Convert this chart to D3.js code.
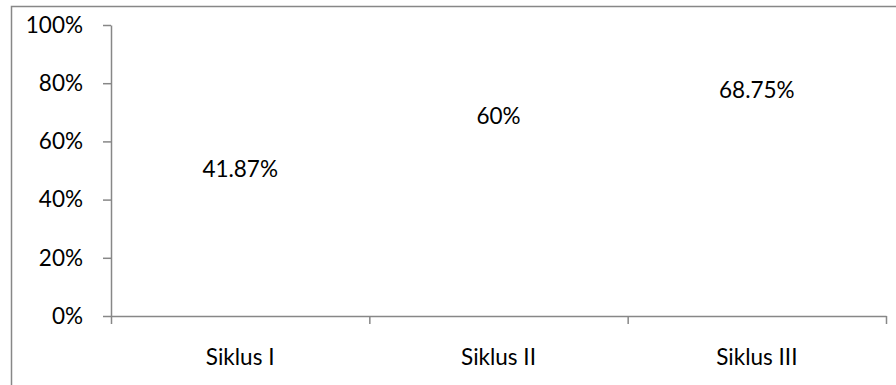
<!DOCTYPE html>
<html>
<head>
<meta charset="utf-8">
<script src="https://cdn.jsdelivr.net/npm/d3@7"></script>
<style>
  html, body { margin: 0; padding: 0; background: #fff; }
  svg { display: block; }
  text { font-family: Lato, "Open Sans", sans-serif; fill: #000; }
</style>
</head>
<body>
<svg id="chart" width="896" height="385"></svg>
<script>
// Persentase ketuntasan per siklus
const categories = ["Siklus I", "Siklus II", "Siklus III"];
const values = [41.87, 60, 68.75];
const valueLabels = ["41.87%", "60%", "68.75%"];
const yTicks = [0, 20, 40, 60, 80, 100];

const W = 896, H = 385;
const margin = { left: 111, right: 10, top: 25, bottom: 69 };
const axisColor = "#878787";
const fontSize = 22.5;

const svg = d3.select("#chart");

// Chart frame
svg.append("path")
  .attr("d", `M11.5,${H + 5} V6.5 H${W + 5}`)
  .attr("fill", "none")
  .attr("stroke", axisColor)
  .attr("stroke-width", 1.5);

const x = d3.scaleBand()
  .domain(categories)
  .range([margin.left, W - margin.right])
  .paddingInner(0.6)
  .paddingOuter(0.3);

const xEdges = d3.scaleLinear()
  .domain([0, categories.length])
  .range([margin.left, W - margin.right]);

const y = d3.scaleLinear()
  .domain([0, 100])
  .range([H - margin.bottom, margin.top]);

// Bars (white fill)
svg.append("g").selectAll("rect")
  .data(values)
  .join("rect")
  .attr("x", (d, i) => x(categories[i]))
  .attr("y", d => y(d))
  .attr("width", x.bandwidth())
  .attr("height", d => y(0) - y(d))
  .attr("fill", "#ffffff");

// Value labels
svg.append("g").selectAll("text")
  .data(values)
  .join("text")
  .attr("x", (d, i) => x(categories[i]) + x.bandwidth() / 2)
  .attr("y", d => y(d) - 26)
  .attr("text-anchor", "middle")
  .attr("dominant-baseline", "central")
  .style("font-size", fontSize + "px")
  .text((d, i) => valueLabels[i]);

// Y axis
const yAxis = svg.append("g")
  .attr("transform", `translate(${margin.left},0)`)
  .call(d3.axisLeft(y).tickValues(yTicks).tickFormat(d => d + "%").tickSize(8).tickPadding(20).tickSizeOuter(0));
yAxis.select(".domain").attr("stroke", axisColor).attr("stroke-width", 1.5);
yAxis.selectAll(".tick line").attr("stroke", axisColor).attr("stroke-width", 1.5);
yAxis.selectAll(".tick text")
  .style("font-size", fontSize + "px")
  .style("font-family", "Lato, 'Open Sans', sans-serif")
  .attr("fill", "#000");

// X axis line with tick marks on category boundaries
const xTickAxis = svg.append("g")
  .attr("transform", `translate(0,${y(0)})`)
  .call(d3.axisBottom(xEdges).tickValues(d3.range(categories.length + 1)).tickFormat("").tickSize(8).tickSizeOuter(0));
xTickAxis.select(".domain").attr("stroke", axisColor).attr("stroke-width", 1.5);
xTickAxis.selectAll(".tick line").attr("stroke", axisColor).attr("stroke-width", 1.5);

// Category labels
const xAxis = svg.append("g")
  .attr("transform", `translate(0,${y(0)})`)
  .call(d3.axisBottom(x).tickSize(0).tickPadding(33));
xAxis.select(".domain").remove();
xAxis.selectAll(".tick text")
  .style("font-size", fontSize + "px")
  .style("font-family", "Lato, 'Open Sans', sans-serif")
  .attr("fill", "#000");
</script>
</body>
</html>
